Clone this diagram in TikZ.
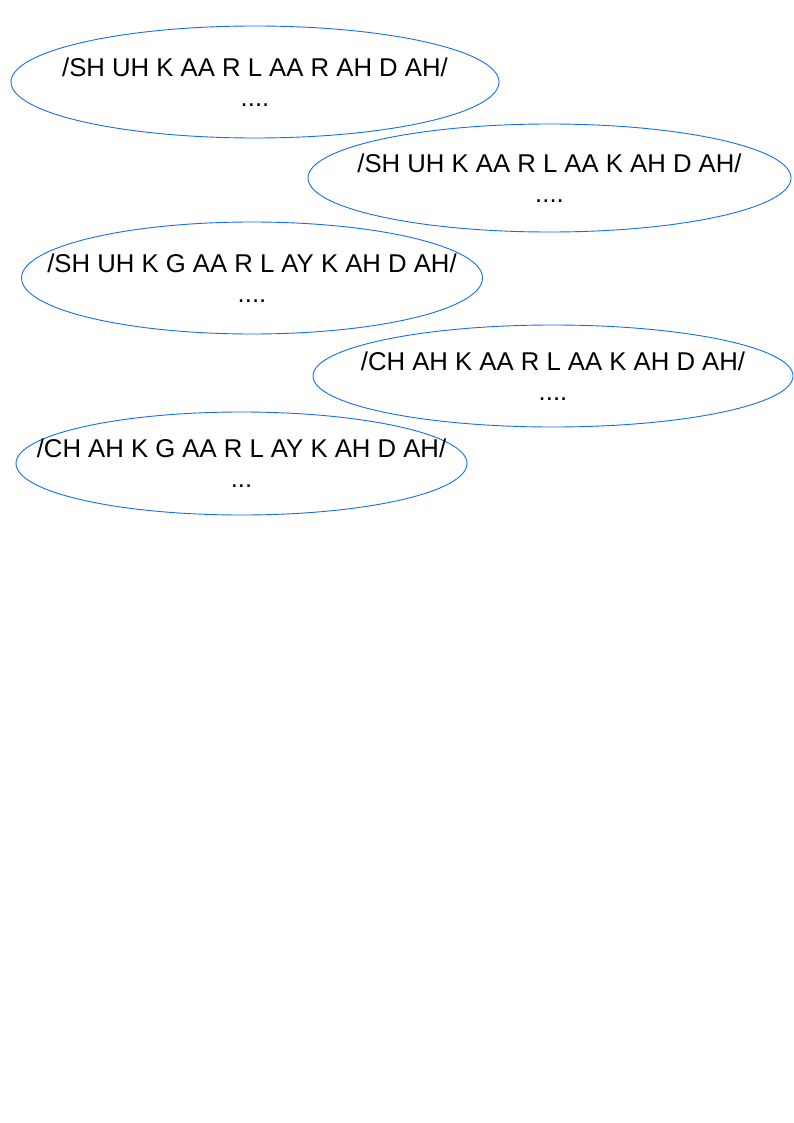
\documentclass[tikz,border=0pt]{standalone}
\usepackage{fontspec}
\setmainfont{Liberation Sans}
\usetikzlibrary{shapes.geometric}
\definecolor{eblue}{RGB}{20,110,245}
\tikzset{
  oval/.style={ellipse, draw=eblue, line width=0.9pt, inner sep=0pt},
  lbl/.style={align=center, inner sep=0pt, font=\fontsize{25.7}{30}\selectfont, text=black}
}
\begin{document}
\begin{tikzpicture}[x=1pt,y=-1pt]
\useasboundingbox (0,0) rectangle (794,1123);
\fill[white] (0,0) rectangle (794,1123);
\node[oval, minimum width=488, minimum height=112] (e1) at (255,82) {};
\node[lbl] (t1) at (e1.center) {/SH UH K AA R L AA R AH D AH/\\....};
\node[oval, minimum width=483, minimum height=108] (e2) at (549.5,178) {};
\node[lbl] (t2) at (e2.center) {/SH UH K AA R L AA K AH D AH/\\....};
\node[oval, minimum width=461, minimum height=112] (e3) at (252,278) {};
\node[lbl] (t3) at (e3.center) {/SH UH K G AA R L AY K AH D AH/\\....};
\node[oval, minimum width=480, minimum height=102] (e4) at (553,376) {};
\node[lbl] (t4) at (e4.center) {/CH AH K AA R L AA K AH D AH/\\....};
\node[oval, minimum width=451, minimum height=103] (e5) at (241.5,463.5) {};
\node[lbl] (t5) at (e5.center) {/CH AH K G AA R L AY K AH D AH/\\...};
\end{tikzpicture}
\end{document}
